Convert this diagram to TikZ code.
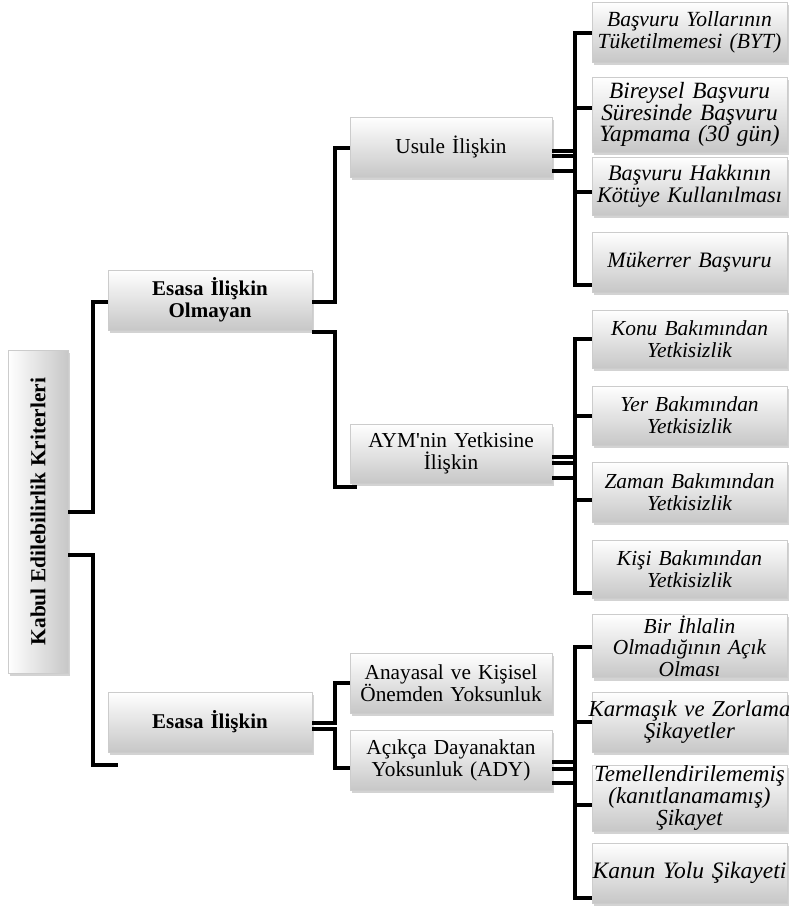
\documentclass[tikz,border=0pt]{standalone}
\usepackage{fontspec}
\setmainfont{Liberation Serif}
\usetikzlibrary{calc,shadows}
\tikzset{
  basebox/.style={rectangle, draw=black!20, line width=0.6pt,
    drop shadow={shadow xshift=2pt, shadow yshift=-3pt, opacity=0.35},
    inner sep=1pt, align=center, text=black},
  box/.style={basebox, top color=white, bottom color=black!22},
  mid/.style={box, minimum width=202pt, minimum height=60pt, text width=198pt,
    font=\fontsize{21.3}{22}\selectfont},
  upper/.style={box, minimum width=204pt, minimum height=60pt, text width=198pt,
    font=\fontsize{21}{22}\selectfont\bfseries},
  leaf/.style={box, minimum width=195pt, text width=193pt,
    font=\fontsize{#1}{21.7}\selectfont\itshape},
  conn/.style={line width=4pt, line join=miter, draw=black},
}
\newcommand\mkl[1]{\makebox[\linewidth]{#1}}
\newcommand\myelbow[4]{\draw[conn] ($(#1.east)+(0,#2)$) coordinate (s) -- (s -| #3) |- (#4);}
\begin{document}
\begin{tikzpicture}[x=1pt,y=-1pt]
\useasboundingbox (0,0) rectangle (789,907);
\coordinate (busA) at (93,0);
\coordinate (busB) at (335,0);
\coordinate (busC) at (575,0);

% root
\node[basebox, left color=white, right color=black!22, minimum width=60pt, minimum height=323pt,
  font=\fontsize{21.4}{22}\selectfont\bfseries] (root) at (38,511.5)
  {\rotatebox{90}{Kabul Edilebilirlik Kriterleri}};

% level 1
\node[upper] (esno) at (210,300) {Esasa İlişkin\\Olmayan};
\node[upper] (es) at (210,722) {Esasa İlişkin};

% level 2
\node[mid] (usule) at (451,147) {Usule İlişkin};
\node[mid, minimum height=59pt] (aym) at (451,453.5) {AYM\textquotesingle nin Yetkisine\\İlişkin};
\node[mid] (anay) at (451,683) {Anayasal ve Kişisel\\Önemden Yoksunluk};
\node[mid] (ady) at (451,760) {Açıkça Dayanaktan\\Yoksunluk (ADY)};

% leaves
\node[leaf=21.6, minimum height=60pt] (byt) at (689.5,32) {\mkl{Başvuru Yollarının}\\\mkl{Tüketilmemesi (BYT)}};
\node[leaf=23.3, minimum height=75pt] (bir) at (689.5,114.5) {\mkl{Bireysel Başvuru}\\\mkl{Süresinde Başvuru}\\\mkl{Yapmama (30 gün)}};
\node[leaf=22.2, minimum height=58pt] (hak) at (689.5,186) {\mkl{Başvuru Hakkının}\\\mkl{Kötüye Kullanılması}};
\node[leaf=22, minimum height=60pt] (muk) at (689.5,262) {\mkl{Mükerrer Başvuru}};

\node[leaf=21.4, minimum height=58pt] (konu) at (689.5,339) {\mkl{Konu Bakımından}\\\mkl{Yetkisizlik}};
\node[leaf=21.4, minimum height=59pt] (yer) at (689.5,415.5) {\mkl{Yer Bakımından}\\\mkl{Yetkisizlik}};
\node[leaf=21.4, minimum height=60pt] (zaman) at (689.5,492) {\mkl{Zaman Bakımından}\\\mkl{Yetkisizlik}};
\node[leaf=21.4, minimum height=58pt] (kisi) at (689.5,569) {\mkl{Kişi Bakımından}\\\mkl{Yetkisizlik}};

\node[leaf=21.4, minimum height=62pt] (ihlal) at (689.5,646) {\mkl{Bir İhlalin}\\\mkl{Olmadığının Açık}\\\mkl{Olması}};
\node[leaf=22.7, minimum height=60pt] (karm) at (689.5,722) {\mkl{Karmaşık ve Zorlama}\\\mkl{Şikayetler}};
\node[leaf=23, minimum height=60pt] (temel) at (689.5,798) {\mkl{Temellendirilememiş}\\\mkl{(kanıtlanamamış)}\\\mkl{Şikayet}};
\node[leaf=23.5, minimum height=60pt] (kanun) at (689.5,873) {\mkl{Kanun Yolu Şikayeti}};

% connectors root
\myelbow{root}{0.5}{busA}{$(esno.west)+(0,2)$}
\myelbow{root}{43.5}{busA}{$(es.south west)+(10,13)$}
% esno
\myelbow{esno}{2}{busB}{$(usule.west)+(0,1)$}
\myelbow{esno}{32}{busB}{$(aym.south west)+(7,3.5)$}
% es
\myelbow{es}{0.7}{busB}{anay.west}
\myelbow{es}{7.3}{busB}{$(ady.west)+(0,8)$}
% usule
\myelbow{usule}{3.5}{busC}{$(byt.west)+(0,1)$}
\myelbow{usule}{8.5}{busC}{$(bir.west)+(0,-6.5)$}
\myelbow{usule}{8.5}{busC}{$(hak.west)+(0,6)$}
\myelbow{usule}{23.5}{busC}{$(muk.west)+(0,23)$}
% aym
\myelbow{aym}{3.5}{busC}{konu.west}
\myelbow{aym}{9.5}{busC}{$(yer.west)+(0,0.5)$}
\myelbow{aym}{9.5}{busC}{$(zaman.west)+(0,8)$}
\myelbow{aym}{24.5}{busC}{$(kisi.west)+(0,24)$}
% ady
\myelbow{ady}{2}{busC}{$(ihlal.west)+(0,1)$}
\myelbow{ady}{9}{busC}{karm.west}
\myelbow{ady}{9}{busC}{$(temel.west)+(0,7)$}
\myelbow{ady}{22.5}{busC}{$(kanun.west)+(0,25)$}
\end{tikzpicture}
\end{document}
